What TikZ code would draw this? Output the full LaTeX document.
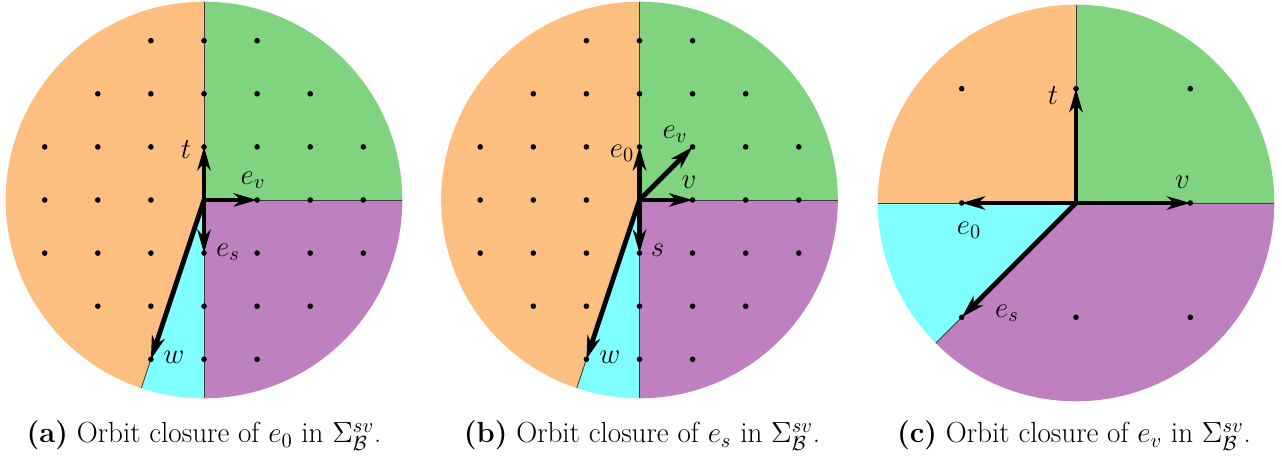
\RequirePackage{fix-cm}
\documentclass[tikz,border=0pt]{standalone}
\usepackage{fontspec}
\usetikzlibrary{arrows.meta}
\definecolor{cOrange}{RGB}{253,191,128}
\definecolor{cGreen}{RGB}{128,212,128}
\definecolor{cPurple}{RGB}{191,128,191}
\definecolor{cCyan}{RGB}{128,255,255}
\definecolor{cEdge}{RGB}{60,60,60}
\tikzset{
  vec/.style={line width=2.6pt,-{Stealth[length=0.44cm,width=0.25cm,inset=0.13cm]}},
  bndry/.style={draw=cEdge,line width=0.5pt},
  lbl/.style={inner sep=0pt,font=\fontsize{15.5}{18}\selectfont},
  captxt/.style={inner sep=0pt,anchor=base,font=\fontsize{15.6}{18}\selectfont},
  dotc/.style={fill=black}
}
\newcommand{\RR}{198.3}
\begin{document}
\begin{tikzpicture}[x=0.0188324cm,y=0.0188324cm]
\useasboundingbox (0,0) rectangle (1282,-459);
% ---------- (a) ----------
\begin{scope}[shift={(204,-200)}]
\coordinate (Oa) at (0,0);
\fill[cGreen]  (Oa) -- (0:\RR) arc[start angle=0,end angle=90,radius=\RR] -- cycle;
\fill[cOrange] (Oa) -- (90:\RR) arc[start angle=90,end angle=251.565,radius=\RR] -- cycle;
\fill[cCyan]   (Oa) -- (251.565:\RR) arc[start angle=251.565,end angle=270,radius=\RR] -- cycle;
\fill[cPurple] (Oa) -- (270:\RR) arc[start angle=270,end angle=360,radius=\RR] -- cycle;
\coordinate (Ea1) at (90:\RR);
\coordinate (Ea2) at (0:\RR);
\coordinate (Ea3) at (270:\RR);
\coordinate (Ea4) at (251.565:\RR);
\draw[bndry] (Oa) -- (Ea1);
\draw[bndry] (Oa) -- (Ea2);
\draw[bndry] (Oa) -- (Ea3);
\draw[bndry] (Oa) -- (Ea4);
\foreach \i in {-3,...,3}{\foreach \j in {-3,...,3}{
  \pgfmathtruncatemacro{\dd}{\i*\i+\j*\j}
  \ifnum\dd<11 \ifnum\dd>0 \fill[dotc] ({53.1*\i},{53.1*\j}) circle[radius=2.8]; \fi\fi}}
\coordinate (ta) at (0,53.1);
\coordinate (eva) at (53.1,0);
\coordinate (esa) at (0,-53.1);
\coordinate (wa) at (-53.1,-159.3);
\draw[vec] (Oa) -- (wa);
\draw[vec] (Oa) -- (ta);
\draw[vec] (Oa) -- (eva);
\draw[vec] (Oa) -- (esa);
\node[lbl] (Lta) at (-18,50) {$t$};
\node[lbl] (Leva) at (49,20) {$e_v$};
\node[lbl] (Lesa) at (24,-52) {$e_s$};
\node[lbl] (Lwa) at (-30,-157) {$w$};
\end{scope}
\node[captxt] (capa) at (204,-443) {\textbf{(a)} Orbit closure of $e_0$ in $\Sigma^{sv}_{\mathcal{B}}$.};
% ---------- (b) ----------
\begin{scope}[shift={(639.5,-200)}]
\coordinate (Ob) at (0,0);
\fill[cGreen]  (Ob) -- (0:\RR) arc[start angle=0,end angle=90,radius=\RR] -- cycle;
\fill[cOrange] (Ob) -- (90:\RR) arc[start angle=90,end angle=251.565,radius=\RR] -- cycle;
\fill[cCyan]   (Ob) -- (251.565:\RR) arc[start angle=251.565,end angle=270,radius=\RR] -- cycle;
\fill[cPurple] (Ob) -- (270:\RR) arc[start angle=270,end angle=360,radius=\RR] -- cycle;
\coordinate (Eb1) at (90:\RR);
\coordinate (Eb2) at (0:\RR);
\coordinate (Eb3) at (270:\RR);
\coordinate (Eb4) at (251.565:\RR);
\draw[bndry] (Ob) -- (Eb1);
\draw[bndry] (Ob) -- (Eb2);
\draw[bndry] (Ob) -- (Eb3);
\draw[bndry] (Ob) -- (Eb4);
\foreach \i in {-3,...,3}{\foreach \j in {-3,...,3}{
  \pgfmathtruncatemacro{\dd}{\i*\i+\j*\j}
  \ifnum\dd<11 \ifnum\dd>0 \fill[dotc] ({53.1*\i},{53.1*\j}) circle[radius=2.8]; \fi\fi}}
\coordinate (e0b) at (0,53.1);
\coordinate (evb) at (53.1,53.1);
\coordinate (vb) at (53.1,0);
\coordinate (sb) at (0,-53.1);
\coordinate (wb) at (-53.1,-159.3);
\draw[vec] (Ob) -- (wb);
\draw[vec] (Ob) -- (e0b);
\draw[vec] (Ob) -- (evb);
\draw[vec] (Ob) -- (vb);
\draw[vec] (Ob) -- (sb);
\node[lbl] (Le0b) at (-17.5,47) {$e_0$};
\node[lbl] (Levb) at (35.5,66) {$e_v$};
\node[lbl] (Lvb) at (49.5,18) {$v$};
\node[lbl] (Lsb) at (18,-50) {$s$};
\node[lbl] (Lwb) at (-29.5,-157) {$w$};
\end{scope}
\node[captxt] (capb) at (642,-443) {\textbf{(b)} Orbit closure of $e_s$ in $\Sigma^{sv}_{\mathcal{B}}$.};
% ---------- (c) ----------
\begin{scope}[shift={(1076,-203)}]
\coordinate (Oc) at (0,0);
\fill[cGreen]  (Oc) -- (0:\RR) arc[start angle=0,end angle=90,radius=\RR] -- cycle;
\fill[cOrange] (Oc) -- (90:\RR) arc[start angle=90,end angle=180,radius=\RR] -- cycle;
\fill[cCyan]   (Oc) -- (180:\RR) arc[start angle=180,end angle=225,radius=\RR] -- cycle;
\fill[cPurple] (Oc) -- (225:\RR) arc[start angle=225,end angle=360,radius=\RR] -- cycle;
\coordinate (Ec1) at (90:\RR);
\coordinate (Ec2) at (0:\RR);
\coordinate (Ec3) at (180:\RR);
\coordinate (Ec4) at (225:\RR);
\draw[bndry] (Oc) -- (Ec1);
\draw[bndry] (Oc) -- (Ec2);
\draw[bndry] (Oc) -- (Ec3);
\draw[bndry] (Oc) -- (Ec4);
\foreach \i/\j in {-1/1,0/1,1/1,-1/0,1/0,-1/-1,0/-1,1/-1}
  \fill[dotc] ({114.3*\i},{114.3*\j}) circle[radius=2.8];
\coordinate (tc) at (0,114.3);
\coordinate (vc) at (114.3,0);
\coordinate (e0c) at (-114.3,0);
\coordinate (esc) at (-114.3,-114.3);
\draw[vec] (Oc) -- (tc);
\draw[vec] (Oc) -- (vc);
\draw[vec] (Oc) -- (e0c);
\draw[vec] (Oc) -- (esc);
\node[lbl] (Ltc) at (-23,107) {$t$};
\node[lbl] (Lvc) at (106.5,21) {$v$};
\node[lbl] (Le0c) at (-107,-27) {$e_0$};
\node[lbl] (Lesc) at (-69,-110) {$e_s$};
\end{scope}
\node[captxt] (capc) at (1074,-443) {\textbf{(c)} Orbit closure of $e_v$ in $\Sigma^{sv}_{\mathcal{B}}$.};
\end{tikzpicture}
\end{document}
